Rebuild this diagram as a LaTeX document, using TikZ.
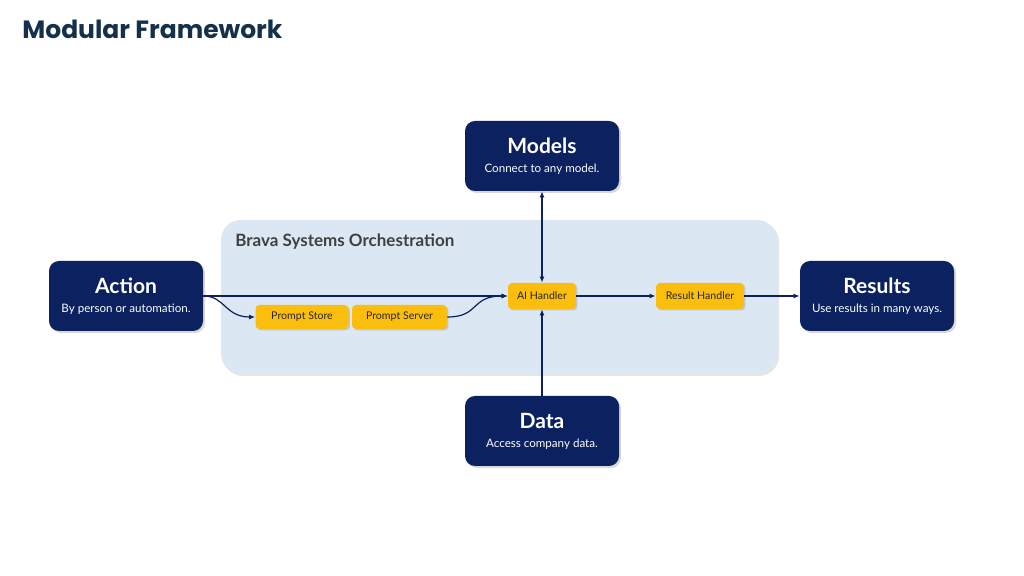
\documentclass[tikz,border=0pt]{standalone}
\usepackage{fontspec}
\setmainfont{Lato}
\newfontfamily\titlefont{Poppins}
\usetikzlibrary{arrows.meta,shadows}
\definecolor{navy}{HTML}{0C2160}
\definecolor{gold}{HTML}{FBBE0E}
\definecolor{panel}{HTML}{DCE7F4}
\definecolor{ttl}{HTML}{15304A}
\begin{document}
\begin{tikzpicture}[x=0.5pt,y=-0.5pt,
  big/.style={fill=navy,rounded corners=5pt,drop shadow={opacity=0.3,shadow xshift=1pt,shadow yshift=-1pt},text=white,align=center,inner sep=0pt},
  small/.style={fill=gold,rounded corners=2pt,drop shadow={opacity=0.3,shadow xshift=0.7pt,shadow yshift=-0.7pt},font=\fontsize{5.3}{6}\selectfont,text=black!85,inner sep=0pt},
  conn/.style={draw=navy,line width=0.6pt,-{Latex[length=3pt,width=2.5pt]}}]
\useasboundingbox (0,0) rectangle (1024,576);
\node[anchor=west,inner sep=0pt,text=ttl,font=\titlefont\bfseries\fontsize{12.5}{15}\selectfont] (title) at (22,29) {Modular Framework};
\node[fill=panel,rounded corners=10pt,minimum width=278pt,minimum height=77pt,inner sep=0pt,drop shadow={opacity=0.2,shadow xshift=1pt,shadow yshift=-1pt}] (panel) at (499,297) {};
\node[anchor=west,inner sep=0pt,text=black!75,font=\bfseries\fontsize{8.5}{10}\selectfont] (ptitle) at (235,242) {Brava Systems Orchestration};
\newcommand{\bigbox}[4]{\node[big,minimum width=77pt,minimum height=35pt] (#1) at (#2) {{\bfseries\fontsize{10.5}{11}\selectfont #3}\\[-2.5pt]{\fontsize{5.8}{7}\selectfont #4}};}
\bigbox{action}{126,296}{Action}{By person or automation.}
\bigbox{models}{542,156}{Models}{Connect to any model.}
\bigbox{data}{542,431}{Data}{Access company data.}
\bigbox{results}{877,296}{Results}{Use results in many ways.}
\node[small,minimum width=46.5pt,minimum height=12pt] (pstore) at (302,317) {Prompt Store};
\node[small,minimum width=47.5pt,minimum height=12pt] (pserver) at (399.5,317) {Prompt Server};
\node[small,minimum width=34pt,minimum height=13pt] (ai) at (542,296) {AI Handler};
\node[small,minimum width=44pt,minimum height=13pt] (rh) at (700,296) {Result Handler};
\draw[conn] (action.east) -- (ai.west);
\draw[conn] (action.east) .. controls (225,296) and (225,317) .. (pstore.west);
\draw[conn] (pserver.east) .. controls (480,317) and (470,296) .. (ai.west);
\draw[conn] (ai) -- (rh);
\draw[conn] (rh) -- (results);
\draw[conn,{Latex[length=3pt,width=2.5pt]}-{Latex[length=3pt,width=2.5pt]}] (models) -- (ai);
\draw[conn] (data) -- (ai);
\end{tikzpicture}
\end{document}
